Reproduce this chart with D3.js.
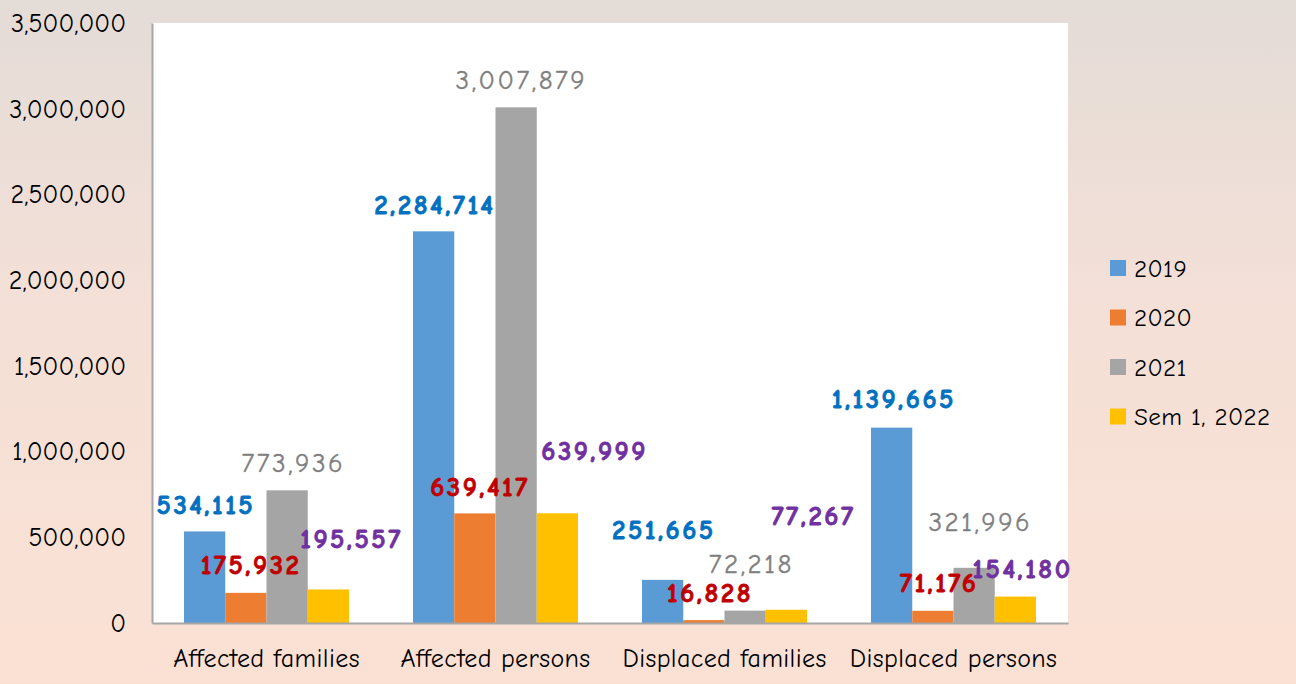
<!DOCTYPE html>
<html>
<head>
<meta charset="utf-8">
<script src="https://cdn.jsdelivr.net/npm/d3@7"></script>
<style>
  html, body { margin: 0; padding: 0; }
  body { width: 1296px; height: 684px; overflow: hidden; }
  svg text { font-family: "Comic Sans MS", "Comic Neue", "DejaVu Sans", sans-serif; }
</style>
</head>
<body>
<div id="chart"></div>
<script>
// data
const categories = ["Affected families", "Affected persons", "Displaced families", "Displaced persons"];
const seriesNames = ["2019", "2020", "2021", "Sem 1, 2022"];
const values2019 = [534115, 2284714, 251665, 1139665];
const values2020 = [175932, 639417, 16828, 71176];
const values2021 = [773936, 3007879, 72218, 321996];
const valuesSem2022 = [195557, 639999, 77267, 154180];
const yTicks = [0, 500000, 1000000, 1500000, 2000000, 2500000, 3000000, 3500000];

const barColors = ["#5B9BD5", "#ED7D31", "#A5A5A5", "#FFC000"];
const labelColors = ["#0070C0", "#C00000", "#7F7F7F", "#7030A0"];

// hand-dragged label nudges [dx, dy above bar top], per series then category
const labelNudge = [
  [[0, 26], [0, 26], [0, 49], [1, 28]],
  [[4, 27], [4, 26], [5, 27], [5, 27]],
  [[5, 27], [4, 27], [5, 46], [5, 45]],
  [[22, 50], [36, 62], [26, 93], [6, 27]]
];

const fontStack = "\"Comic Sans MS\", \"Comic Neue\", \"DejaVu Sans\", sans-serif";
const W = 1296, H = 684;
const plot = { left: 152, right: 1068, top: 23, bottom: 623 };

const svg = d3.select("#chart").append("svg")
    .attr("width", W)
    .attr("height", H);

// background gradient
const grad = svg.append("defs").append("linearGradient")
    .attr("id", "bg").attr("x1", 0).attr("y1", 0).attr("x2", 0).attr("y2", 1);
grad.append("stop").attr("offset", "0%").attr("stop-color", "#E4DCD7");
grad.append("stop").attr("offset", "45%").attr("stop-color", "#F4E0D7");
grad.append("stop").attr("offset", "100%").attr("stop-color", "#FBE1D4");
svg.append("rect").attr("width", W).attr("height", H).attr("fill", "url(#bg)");

// plot area
svg.append("rect")
    .attr("x", plot.left).attr("y", plot.top)
    .attr("width", plot.right - plot.left)
    .attr("height", plot.bottom - plot.top)
    .attr("fill", "#FFFFFF");

const series = [values2019, values2020, values2021, valuesSem2022];
const rows = [];
series.forEach((vals, si) => {
  vals.forEach((v, ci) => rows.push({ si, ci, cat: categories[ci], name: seriesNames[si], v }));
});

const x0 = d3.scaleBand().domain(categories).range([plot.left, plot.right]).padding(0);
const x1 = d3.scaleBand().domain(seriesNames).range([0, x0.bandwidth()])
    .paddingInner(0).paddingOuter(0.776);
const y = d3.scaleLinear().domain([0, 3500000]).range([plot.bottom, plot.top]);

// bars
svg.append("g").selectAll("rect")
  .data(rows)
  .join("rect")
    .attr("x", d => x0(d.cat) + x1(d.name))
    .attr("y", d => y(d.v))
    .attr("width", x1.bandwidth())
    .attr("height", d => y(0) - y(d.v))
    .attr("fill", d => barColors[d.si]);

// y axis
const yAxis = svg.append("g")
    .attr("transform", `translate(${plot.left},0)`)
    .call(d3.axisLeft(y).tickValues(yTicks).tickFormat(d3.format(",")).tickSize(0).tickPadding(26));
yAxis.select(".domain").attr("stroke", "#A6A6A6").attr("stroke-width", 2);
yAxis.selectAll("text").attr("font-size", 26).attr("fill", "#000")
    .style("font-family", fontStack);

// x axis
const xAxis = svg.append("g")
    .attr("transform", `translate(0,${plot.bottom})`)
    .call(d3.axisBottom(x0).tickSize(0).tickPadding(26));
xAxis.select(".domain").attr("stroke", "#A6A6A6").attr("stroke-width", 2);
xAxis.selectAll("text").attr("font-size", 26).attr("fill", "#000")
    .attr("letter-spacing", 0.4)
    .style("font-family", fontStack);

// value labels
svg.append("g").selectAll("text")
  .data(rows)
  .join("text")
    .attr("x", d => x0(d.cat) + x1(d.name) + x1.bandwidth() / 2 + labelNudge[d.si][d.ci][0] + 1.2)
    .attr("y", d => y(d.v) - labelNudge[d.si][d.ci][1])
    .attr("text-anchor", "middle")
    .attr("dominant-baseline", "central")
    .attr("font-size", 27)
    .attr("letter-spacing", 2.5)
    .attr("font-weight", d => d.si === 2 ? "normal" : "bold")
    .attr("fill", d => labelColors[d.si])
    .attr("stroke", d => labelColors[d.si])
    .attr("stroke-width", d => d.si === 2 ? 0.4 : 0.8)
    .text(d => d3.format(",")(d.v));

// legend
const legend = svg.append("g").attr("transform", "translate(1110,268)");
const item = legend.selectAll("g")
  .data(seriesNames)
  .join("g")
    .attr("transform", (d, i) => `translate(0,${i * 49.5})`);
item.append("rect")
    .attr("x", 0).attr("y", -8).attr("width", 16).attr("height", 16)
    .attr("fill", (d, i) => barColors[i]);
item.append("text")
    .attr("x", 24).attr("y", 0)
    .attr("dominant-baseline", "central")
    .attr("font-size", 25)
    .attr("letter-spacing", 0.4)
    .attr("fill", "#000")
    .text(d => d);
</script>
</body>
</html>
